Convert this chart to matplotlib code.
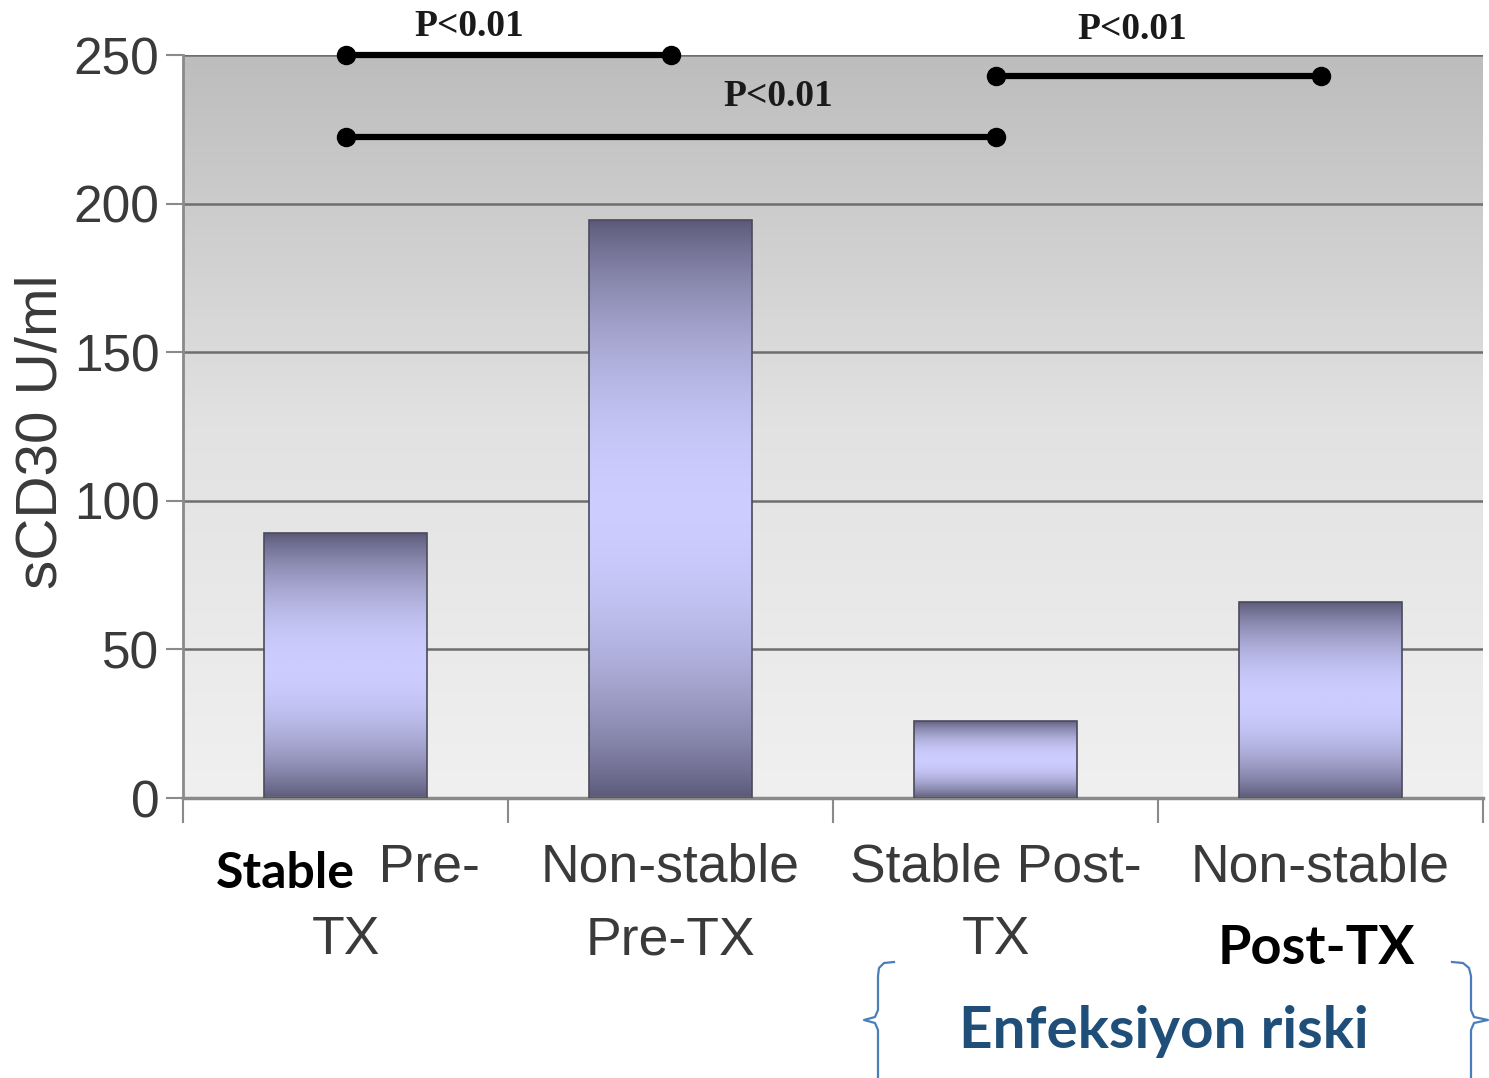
import matplotlib
matplotlib.use("Agg")
import matplotlib.pyplot as plt
import numpy as np
from matplotlib.colors import LinearSegmentedColormap
from matplotlib.lines import Line2D
from matplotlib.patches import Rectangle

# Veriler
kategoriler = ["Stable Pre-\nTX", "Non-stable\nPre-TX", "Stable Post-\nTX", "Non-stable\nPost-TX"]
degerler = [89, 194.5, 26, 66]
y_ticks = [0, 50, 100, 150, 200, 250]

# Anlamlılık çizgileri: (baslangic, bitis), y seviyesi, etiket
sig_ciftler = [(0, 1), (0, 2), (2, 3)]
sig_y = [250, 222.5, 243]
sig_etiket = ["P<0.01", "P<0.01", "P<0.01"]
sig_etiket_x = [0.38, 1.33, 2.42]
sig_etiket_y = [259.5, 236, 258.5]

W, H = 1489, 1078
fig = plt.figure(figsize=(W / 100, H / 100), dpi=100)
ax = fig.add_axes([183 / W, 1 - 798 / H, 1300 / W, 743 / H])

x = np.arange(len(kategoriler))
ax.set_xlim(-0.5, 3.5)
ax.set_ylim(0, 250)

# arka plan degrade
bg = LinearSegmentedColormap.from_list("bg", ["#f0f0f0", "#e2e2e2", "#bdbdbd"])
grad = np.linspace(0, 1, 256).reshape(-1, 1)
ax.imshow(grad, extent=[-0.5, 3.5, 0, 250], origin="lower", aspect="auto",
          cmap=bg, zorder=0)

for yt in y_ticks[1:]:
    ax.axhline(yt, color="#6e6e6e", lw=1.8, zorder=1)

# çubuklar (dikey degrade: uçlarda koyu, ortada açık)
bar_cmap = LinearSegmentedColormap.from_list("bar", ["#5a5876", "#cccdfe"])
profil = np.sin(np.pi * np.linspace(0, 1, 256)) ** 0.8
profil = profil.reshape(-1, 1)
bars = ax.bar(x, degerler, width=0.5, facecolor="none", edgecolor="#4a4a5e",
              lw=1.2, zorder=3)
for b in bars:
    x0, y0 = b.get_x(), b.get_y()
    im = ax.imshow(profil, extent=[x0, x0 + b.get_width(), y0, y0 + b.get_height()],
                   origin="lower", aspect="auto", cmap=bar_cmap, zorder=2)
    im.set_clip_path(b)

# eksenler
for s in ["top", "right"]:
    ax.spines[s].set_visible(False)
ax.spines["left"].set_color("#8a8a8a")
ax.spines["left"].set_linewidth(2)
ax.spines["bottom"].set_color("#8a8a8a")
ax.spines["bottom"].set_linewidth(2.5)

ax.set_yticks(y_ticks)
ax.set_yticklabels([str(t) for t in y_ticks], fontsize=37, color="#3a3a3a",
                   family="Liberation Sans")
ax.tick_params(axis="y", length=12, width=1.5, color="#8a8a8a", pad=5)

ax.set_xticks(x)
ax.set_xticklabels(kategoriler, fontsize=38.5, color="#3a3a3a",
                   family="Liberation Sans", linespacing=1.58)
ax.tick_params(axis="x", length=0, pad=32)
ax.set_xticks(np.arange(-0.5, 3.6, 1), minor=True)
ax.tick_params(axis="x", which="minor", length=18, width=1.5, color="#8a8a8a")

fig.text(42 / W, 1 - 432 / H, "sCD30 U/ml", rotation=90, ha="center", va="center",
         fontsize=42, color="#3a3a3a", family="Liberation Sans")

# anlamlılık çizgileri
for (a, b), yy, et, ex, ey in zip(sig_ciftler, sig_y, sig_etiket, sig_etiket_x, sig_etiket_y):
    ax.plot([a, b], [yy, yy], color="black", lw=4.5, marker="o", ms=13,
            clip_on=False, zorder=5)
    ax.text(ex, ey, et, ha="center", va="center", fontsize=27, fontweight="bold",
            family="Liberation Serif", color="#1a1a1a", clip_on=False, zorder=6)

# üzerine yazılmış kalın etiketler (beyaz kutu üstünde)
fig.add_artist(Rectangle((196 / W, 1 - 904 / H), 186 / W, 74 / H,
                         transform=fig.transFigure, facecolor="white",
                         edgecolor="none", zorder=10))
fig.add_artist(Rectangle((1190 / W, 1 - 992 / H), 299 / W, 84 / H,
                         transform=fig.transFigure, facecolor="white",
                         edgecolor="none", zorder=10))
fig.text(285 / W, 1 - 874 / H, "Stable", ha="center", va="center", fontsize=36,
         fontweight="bold", family="Lato", color="black", zorder=11)
fig.text(1316 / W, 1 - 948 / H, "Post-TX", ha="center", va="center", fontsize=39,
         fontweight="bold", family="Lato", color="black", zorder=11)
fig.text(1164 / W, 1 - 1032 / H, "Enfeksiyon riski", ha="center", va="center",
         fontsize=42, fontweight="bold", family="Lato", color="#1f4e79", zorder=11)

# süslü parantezler
def px(pts):
    xs = [p[0] / W for p in pts]
    ys = [1 - p[1] / H for p in pts]
    return xs, ys

sol = [(894, 962), (884, 963), (879, 968), (878, 976), (878, 1010), (875, 1017),
       (864, 1020), (875, 1023), (878, 1030), (878, 1078)]
sag = [(1452, 962), (1463, 963), (1469, 968), (1471, 976), (1471, 1010), (1474, 1017),
       (1488, 1020), (1474, 1023), (1471, 1030), (1471, 1078)]
for pts in (sol, sag):
    xs, ys = px(pts)
    fig.add_artist(Line2D(xs, ys, transform=fig.transFigure, color="#4a7ebb",
                          lw=1.6, zorder=12))

fig.savefig("out.png", dpi=100)
